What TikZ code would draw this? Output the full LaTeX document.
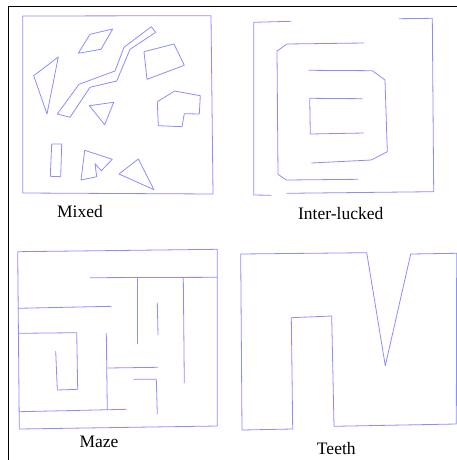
\documentclass[tikz,border=0pt]{standalone}
\usepackage{fontspec}
\setmainfont{Liberation Serif}
\usetikzlibrary{positioning}

\definecolor{wallblue}{RGB}{140,140,255}

\begin{document}
\begin{tikzpicture}[
  x=1pt, y=-1pt,
  wall/.style={draw=wallblue, line width=0.8pt, line join=round},
  frame/.style={draw=black, line width=1pt},
  caption/.style={font=\fontsize{17.5}{20}\selectfont, inner sep=0pt}
]
\useasboundingbox (0,0) rectangle (457,460);

% page frame
\draw[frame] (457,6.5) -- (8.3,6.5) -- (8.3,460);

% Mixed
\draw[wall] (22.7,16) -- (211,15.7) -- (213,194) -- (22.7,193) -- cycle;
\draw[wall] (90,34.3) -- (112.7,29) -- (101,49.3) -- (78.3,53.3) -- cycle;
\draw[wall] (33.7,75.7) -- (58.3,57) -- (47,114) -- cycle;
\draw[wall] (57.3,114) -- (79,84.3) -- (115,71) -- (124,47.3) -- (151.3,26.7)
  -- (155.7,32.3) -- (130,49.3) -- (116.7,81) -- (90,87.3) -- (70,117.3) -- cycle;
\draw[wall] (144,51.7) -- (174,44) -- (184.3,65.3) -- (147,79.3) -- cycle;
\draw[wall] (89.3,105.7) -- (113.7,102.3) -- (104.7,124.7) -- cycle;
\draw[wall] (157.3,101.7) -- (174.7,91) -- (200.3,95.7) -- (199.3,114)
  -- (184.3,113.7) -- (182,126.7) -- (158.3,125.7) -- cycle;
\draw[wall] (51.7,144) -- (61.7,144) -- (60.7,176.7) -- (50.3,176.3) -- cycle;
\draw[wall] (84.7,150.3) -- (112.3,159.3) -- (101.3,170.7) -- (95,163.7)
  -- (96.7,176.7) -- (81,180) -- cycle;
\draw[wall] (119,174) -- (138.3,159) -- (154,189.7) -- cycle;
\node[caption] (mixed) at (80,211.7) {Mixed};

% Inter-lucked
\draw[wall] (291.3,21.3) -- (253.7,22.3) -- (253.7,195) -- (271.3,195.3);
\draw[wall] (399,18.7) -- (432.3,18.3) -- (433.7,191.7) -- (286.3,193.3);
\draw[wall] (364.3,43) -- (287,44) -- (277,51) -- (278,174.3) -- (286.3,180) -- (358,179.3);
\draw[wall] (308.7,70.3) -- (372.3,70.7) -- (385,80) -- (387.3,151.7) -- (371.3,160) -- (311.3,163);
\draw[wall] (362.3,98.7) -- (309.7,98.3) -- (310.3,134) -- (363.7,133);
\node[caption] (interlucked) at (340.7,213.3) {Inter-lucked};

% Maze
\draw[wall] (17.7,251.7) -- (217.3,249.3) -- (217.3,426) -- (19.3,429) -- cycle;
\draw[wall] (90,277.7) -- (217.3,277.3);
\draw[wall] (137.3,277.7) -- (137.3,344);
\draw[wall] (183.3,277.7) -- (184.3,383);
\draw[wall] (157.3,302.7) -- (158,335);
\draw[wall] (17.7,308.3) -- (111.7,306.3);
\draw[wall] (18.3,333.3) -- (76.7,332.7) -- (77.7,389.3) -- (57.3,390) -- (55.7,351);
\draw[wall] (106.3,333) -- (107.3,410);
\draw[wall] (107.3,368) -- (158,367.3);
\draw[wall] (133.3,379.3) -- (156.3,379.3) -- (157.3,414.3);
\draw[wall] (19.3,411.7) -- (126.7,409.3);
\node[caption] (maze) at (99,441.7) {Maze};

% Teeth
\draw[wall] (240.7,254) -- (366.7,252.7) -- (385.3,365.7) -- (410.7,254) -- (456.7,253.3)
  -- (456.3,424) -- (334,426.3) -- (331.7,316) -- (291.3,317.7) -- (292.7,429)
  -- (242,430) -- cycle;
\node[caption] (teeth) at (336.3,448.3) {Teeth};

\end{tikzpicture}
\end{document}
